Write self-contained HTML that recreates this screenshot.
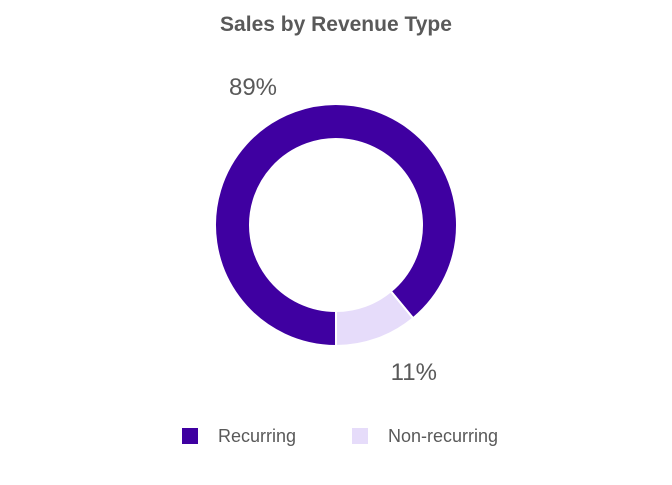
<!DOCTYPE html>
<html><head><meta charset="utf-8"><style>
body{margin:0;background:#fff;width:672px;height:480px;overflow:hidden;font-family:"Liberation Sans",Arial,sans-serif}
</style></head><body>
<svg id="c" width="672" height="480">
<text x="336" y="31" text-anchor="middle" font-size="21" font-weight="bold" fill="#595959">Sales by Revenue Type</text>
<g id="slices"></g>
<g id="labels"></g>
<g>
<rect x="182" y="428" width="16" height="16" fill="#3f00a1"/>
<text x="218" y="442" font-size="18" fill="#595959">Recurring</text>
<rect x="352" y="428" width="16" height="16" fill="#e6dcfa"/>
<text x="388" y="442" font-size="18" fill="#595959">Non-recurring</text>
</g>
</svg>
<script>
const categories=["Recurring","Non-recurring"];
const values=[89,11];
const labels=["89%","11%"];
const colors=["#3f00a1","#e6dcfa"];
const cx=336,cy=225,R=121,r=86;
const ns="http://www.w3.org/2000/svg";
const total=values.reduce((a,b)=>a+b,0);
let a0=Math.PI;
function pt(rad,a){return [cx+rad*Math.sin(a),cy-rad*Math.cos(a)];}
values.forEach((v,i)=>{
  const a1=a0+v/total*2*Math.PI;
  const large=(a1-a0)>Math.PI?1:0;
  const [x0,y0]=pt(R,a0),[x1,y1]=pt(R,a1),[x2,y2]=pt(r,a1),[x3,y3]=pt(r,a0);
  const p=document.createElementNS(ns,"path");
  p.setAttribute("d",`M${x0},${y0}A${R},${R} 0 ${large} 1 ${x1},${y1}L${x2},${y2}A${r},${r} 0 ${large} 0 ${x3},${y3}Z`);
  p.setAttribute("fill",colors[i]);p.setAttribute("stroke","#fff");p.setAttribute("stroke-width","2");
  
  
  document.getElementById("slices").appendChild(p);
  const mid=(a0+a1)/2;
  let tx,ty;
  if(i==0){tx=253;ty=95;}else{const q=pt(150,mid);tx=q[0]+27;ty=q[1]+14;}
  const t=document.createElementNS(ns,"text");
  t.setAttribute("x",tx);t.setAttribute("y",ty);t.setAttribute("text-anchor","middle");
  t.setAttribute("font-size","24");t.setAttribute("fill","#595959");
  t.textContent=labels[i];
  
  
  document.getElementById("labels").appendChild(t);
  a0=a1;
});
</script>
</body></html>
